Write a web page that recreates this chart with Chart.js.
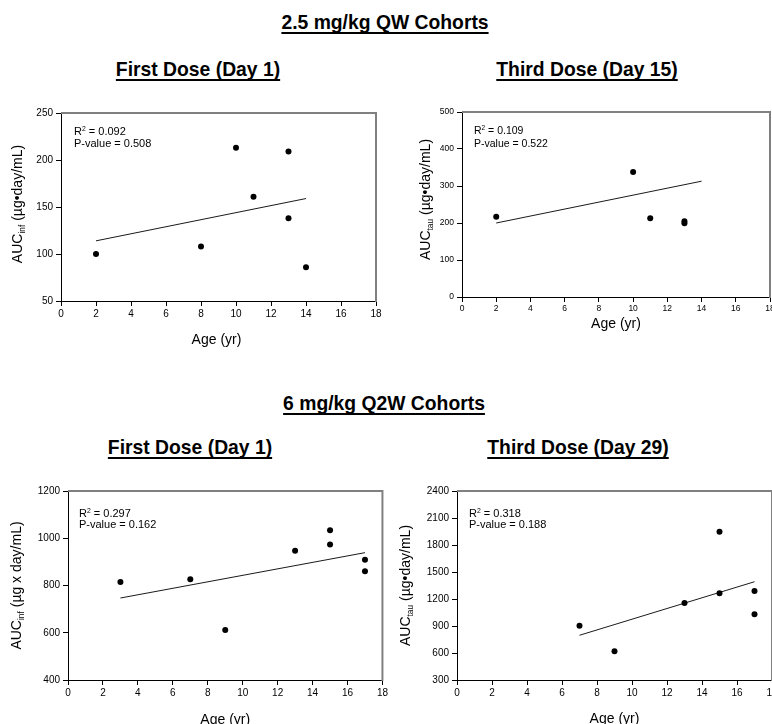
<!DOCTYPE html>
<html>
<head>
<meta charset="utf-8">
<script src="https://cdn.jsdelivr.net/npm/chart.js@4.4.1/dist/chart.umd.min.js"></script>
<style>
  html, body { margin: 0; padding: 0; background: #fff; }
  body { width: 772px; height: 724px; position: relative; overflow: hidden; }
  .title {
    position: absolute;
    font-family: "Liberation Sans", Arial, sans-serif;
    font-weight: bold;
    font-size: 21px;
    line-height: 22px;
    color: #000;
    text-decoration: underline;
    text-decoration-thickness: 2px;
    text-underline-offset: 3px;
    text-decoration-skip-ink: none;
    white-space: nowrap;
    transform: translateX(-50%) scaleX(0.92);
  }
  canvas { position: absolute; }
</style>
</head>
<body>
<div class="title" style="left:385px; top:11px">2.5 mg/kg QW Cohorts</div>
<div class="title" style="left:198px; top:58px">First Dose (Day 1)</div>
<div class="title" style="left:587px; top:58px">Third Dose (Day 15)</div>
<div class="title" style="left:384px; top:392px">6 mg/kg Q2W Cohorts</div>
<div class="title" style="left:190px; top:436px">First Dose (Day 1)</div>
<div class="title" style="left:578px; top:436px">Third Dose (Day 29)</div>

<canvas id="c1" width="390" height="250" style="left:0px; top:100px"></canvas>
<canvas id="c2" width="400" height="250" style="left:390px; top:100px"></canvas>
<canvas id="c3" width="390" height="260" style="left:0px; top:480px"></canvas>
<canvas id="c4" width="400" height="260" style="left:390px; top:480px"></canvas>

<script>
// 2.5 mg/kg QW - first dose (day 1)
const qwDay1Age = [2, 8, 10, 11, 13, 13, 14];
const qwDay1Auc = [100, 108, 213, 161, 209, 138, 86];
const qwDay1FitAge = [2, 14];
const qwDay1FitAuc = [114, 159];

// 2.5 mg/kg QW - third dose (day 15)
const qwDay15Age = [2, 10, 11, 13, 13];
const qwDay15Auc = [217, 338, 213, 205, 199];
const qwDay15FitAge = [2, 14];
const qwDay15FitAuc = [200, 313];

// 6 mg/kg Q2W - first dose (day 1)
const q2wDay1Age = [3, 7, 9, 13, 15, 15, 17, 17];
const q2wDay1Auc = [815, 826, 612, 947, 1034, 974, 909, 860];
const q2wDay1FitAge = [3, 17];
const q2wDay1FitAuc = [747, 939];

// 6 mg/kg Q2W - third dose (day 29)
const q2wDay29Age = [7, 9, 13, 15, 15, 17, 17];
const q2wDay29Auc = [903, 619, 1156, 1948, 1263, 1289, 1030];
const q2wDay29FitAge = [7, 17];
const q2wDay29FitAuc = [797, 1392];

const FONT = '"Liberation Sans", Arial, sans-serif';

function toPoints(xs, ys) {
  return xs.map((x, i) => ({ x: x, y: ys[i] }));
}

// y title with subscript, R2 / P-value box, x title, grey top/right frame
const panelDecor = {
  id: 'panelDecor',
  afterDraw(chart, args, o) {
    const ctx = chart.ctx;
    const a = chart.chartArea;
    ctx.save();

    ctx.strokeStyle = '#808080';
    ctx.lineWidth = 2;
    ctx.beginPath();
    ctx.moveTo(a.left, a.top);
    ctx.lineTo(a.right, a.top);
    ctx.lineTo(a.right, a.bottom + 1);
    ctx.stroke();

    ctx.fillStyle = '#000';
    ctx.textBaseline = 'alphabetic';

    // stats
    const fs = o.statsSize;
    let x = a.left + o.statsDx;
    let y = a.top + o.statsDy[0] + fs * 0.36;
    ctx.font = fs + 'px ' + FONT;
    ctx.fillText('R', x, y);
    x += ctx.measureText('R').width;
    ctx.font = (fs * 0.62) + 'px ' + FONT;
    ctx.fillText('2', x, y - fs * 0.4);
    x += ctx.measureText('2').width;
    ctx.font = fs + 'px ' + FONT;
    ctx.fillText(' = ' + o.r2, x, y);
    ctx.fillText('P-value = ' + o.pval, a.left + o.statsDx, a.top + o.statsDy[1] + fs * 0.36);

    // x title
    ctx.font = o.titleSize + 'px ' + FONT;
    ctx.textAlign = 'center';
    ctx.fillText(o.xTitle, (a.left + a.right) / 2 + o.xTitleDx, a.bottom + o.xTitleDy + o.titleSize * 0.36);

    // y title (rotated)
    ctx.textAlign = 'left';
    const ts = o.titleSize;
    const subFont = (ts * 0.6) + 'px ' + FONT;
    const mainFont = ts + 'px ' + FONT;
    ctx.font = mainFont;
    const w1 = ctx.measureText(o.yMain).width;
    const w3 = ctx.measureText(o.yUnit).width;
    ctx.font = subFont;
    const w2 = ctx.measureText(o.ySub).width;
    const total = w1 + w2 + w3;
    ctx.translate(o.yTitleX, (a.top + a.bottom) / 2 + o.yTitleDy);
    ctx.rotate(-Math.PI / 2);
    let tx = -total / 2;
    const base = ts * 0.36;
    ctx.font = mainFont;
    ctx.fillText(o.yMain, tx, base);
    tx += w1;
    ctx.font = subFont;
    ctx.fillText(o.ySub, tx, base + ts * 0.22);
    tx += w2;
    ctx.font = mainFont;
    ctx.fillText(o.yUnit, tx, base);

    ctx.restore();
  }
};

function makePanel(id, cfg) {
  const canvas = document.getElementById(id);
  const W = canvas.width, H = canvas.height;
  const p = cfg.plot;
  new Chart(canvas, {
    type: 'scatter',
    data: {
      datasets: [
        {
          data: toPoints(cfg.xs, cfg.ys),
          pointRadius: 3,
          pointBackgroundColor: '#000',
          pointBorderWidth: 0,
          showLine: false
        },
        {
          data: toPoints(cfg.fitX, cfg.fitY),
          showLine: true,
          pointRadius: 0,
          borderColor: '#1a1a1a',
          borderWidth: 1
        }
      ]
    },
    options: {
      responsive: false,
      animation: false,
      layout: { padding: { top: p.t, right: W - p.r, left: 0, bottom: 0 } },
      plugins: {
        legend: { display: false },
        tooltip: { enabled: false },
        panelDecor: cfg.decor
      },
      scales: {
        x: {
          type: 'linear',
          min: 0, max: 18,
          ticks: { stepSize: 2, color: '#000', padding: 2, font: { family: FONT, size: cfg.tickSize },
                   callback: v => String(v) },
          grid: { drawOnChartArea: false, tickLength: 5, color: '#000' },
          border: { color: '#000', width: 1 },
          afterFit(s) { s.height = H - p.b; }
        },
        y: {
          type: 'linear',
          min: cfg.yMin, max: cfg.yMax,
          ticks: { stepSize: cfg.yStep, color: '#000', padding: 3, font: { family: FONT, size: cfg.tickSize },
                   callback: v => String(v) },
          grid: { drawOnChartArea: false, tickLength: 5, color: '#000' },
          border: { color: '#000', width: 1 },
          afterFit(s) { s.width = p.l; }
        }
      }
    },
    plugins: [panelDecor]
  });
}

makePanel('c1', {
  xs: qwDay1Age, ys: qwDay1Auc, fitX: qwDay1FitAge, fitY: qwDay1FitAuc,
  yMin: 50, yMax: 250, yStep: 50, tickSize: 10,
  plot: { l: 61, t: 13, r: 376, b: 201 },
  decor: { r2: '0.092', pval: '0.508', statsDx: 13, statsDy: [18, 30], statsSize: 11,
           xTitle: 'Age (yr)', xTitleDx: -2, xTitleDy: 38, titleSize: 14,
           yMain: 'AUC', ySub: 'inf', yUnit: ' (\u00b5g\u2022day/mL)', yTitleX: 17, yTitleDy: -3 }
});

makePanel('c2', {
  xs: qwDay15Age, ys: qwDay15Auc, fitX: qwDay15FitAge, fitY: qwDay15FitAuc,
  yMin: 0, yMax: 500, yStep: 100, tickSize: 8.5,
  plot: { l: 72, t: 12, r: 380, b: 197 },
  decor: { r2: '0.109', pval: '0.522', statsDx: 12, statsDy: [18, 31], statsSize: 10.5,
           xTitle: 'Age (yr)', xTitleDx: 0, xTitleDy: 26, titleSize: 14,
           yMain: 'AUC', ySub: 'tau', yUnit: ' (\u00b5g\u2022day/mL)', yTitleX: 35, yTitleDy: -5 }
});

makePanel('c3', {
  xs: q2wDay1Age, ys: q2wDay1Auc, fitX: q2wDay1FitAge, fitY: q2wDay1FitAuc,
  yMin: 400, yMax: 1200, yStep: 200, tickSize: 10,
  plot: { l: 68, t: 11, r: 385, b: 200 },
  decor: { r2: '0.297', pval: '0.162', statsDx: 11, statsDy: [22, 33], statsSize: 11,
           xTitle: 'Age (yr)', xTitleDx: 0, xTitleDy: 39, titleSize: 14,
           yMain: 'AUC', ySub: 'inf', yUnit: ' (\u00b5g x day/mL)', yTitleX: 16, yTitleDy: 0 }
});

makePanel('c4', {
  xs: q2wDay29Age, ys: q2wDay29Auc, fitX: q2wDay29FitAge, fitY: q2wDay29FitAuc,
  yMin: 300, yMax: 2400, yStep: 300, tickSize: 10,
  plot: { l: 67, t: 11, r: 382, b: 200 },
  decor: { r2: '0.318', pval: '0.188', statsDx: 12, statsDy: [22, 33], statsSize: 11,
           xTitle: 'Age (yr)', xTitleDx: 0, xTitleDy: 38, titleSize: 14,
           yMain: 'AUC', ySub: 'tau', yUnit: ' (\u00b5g\u2022day/mL)', yTitleX: 15, yTitleDy: 0 }
});
</script>
</body>
</html>
